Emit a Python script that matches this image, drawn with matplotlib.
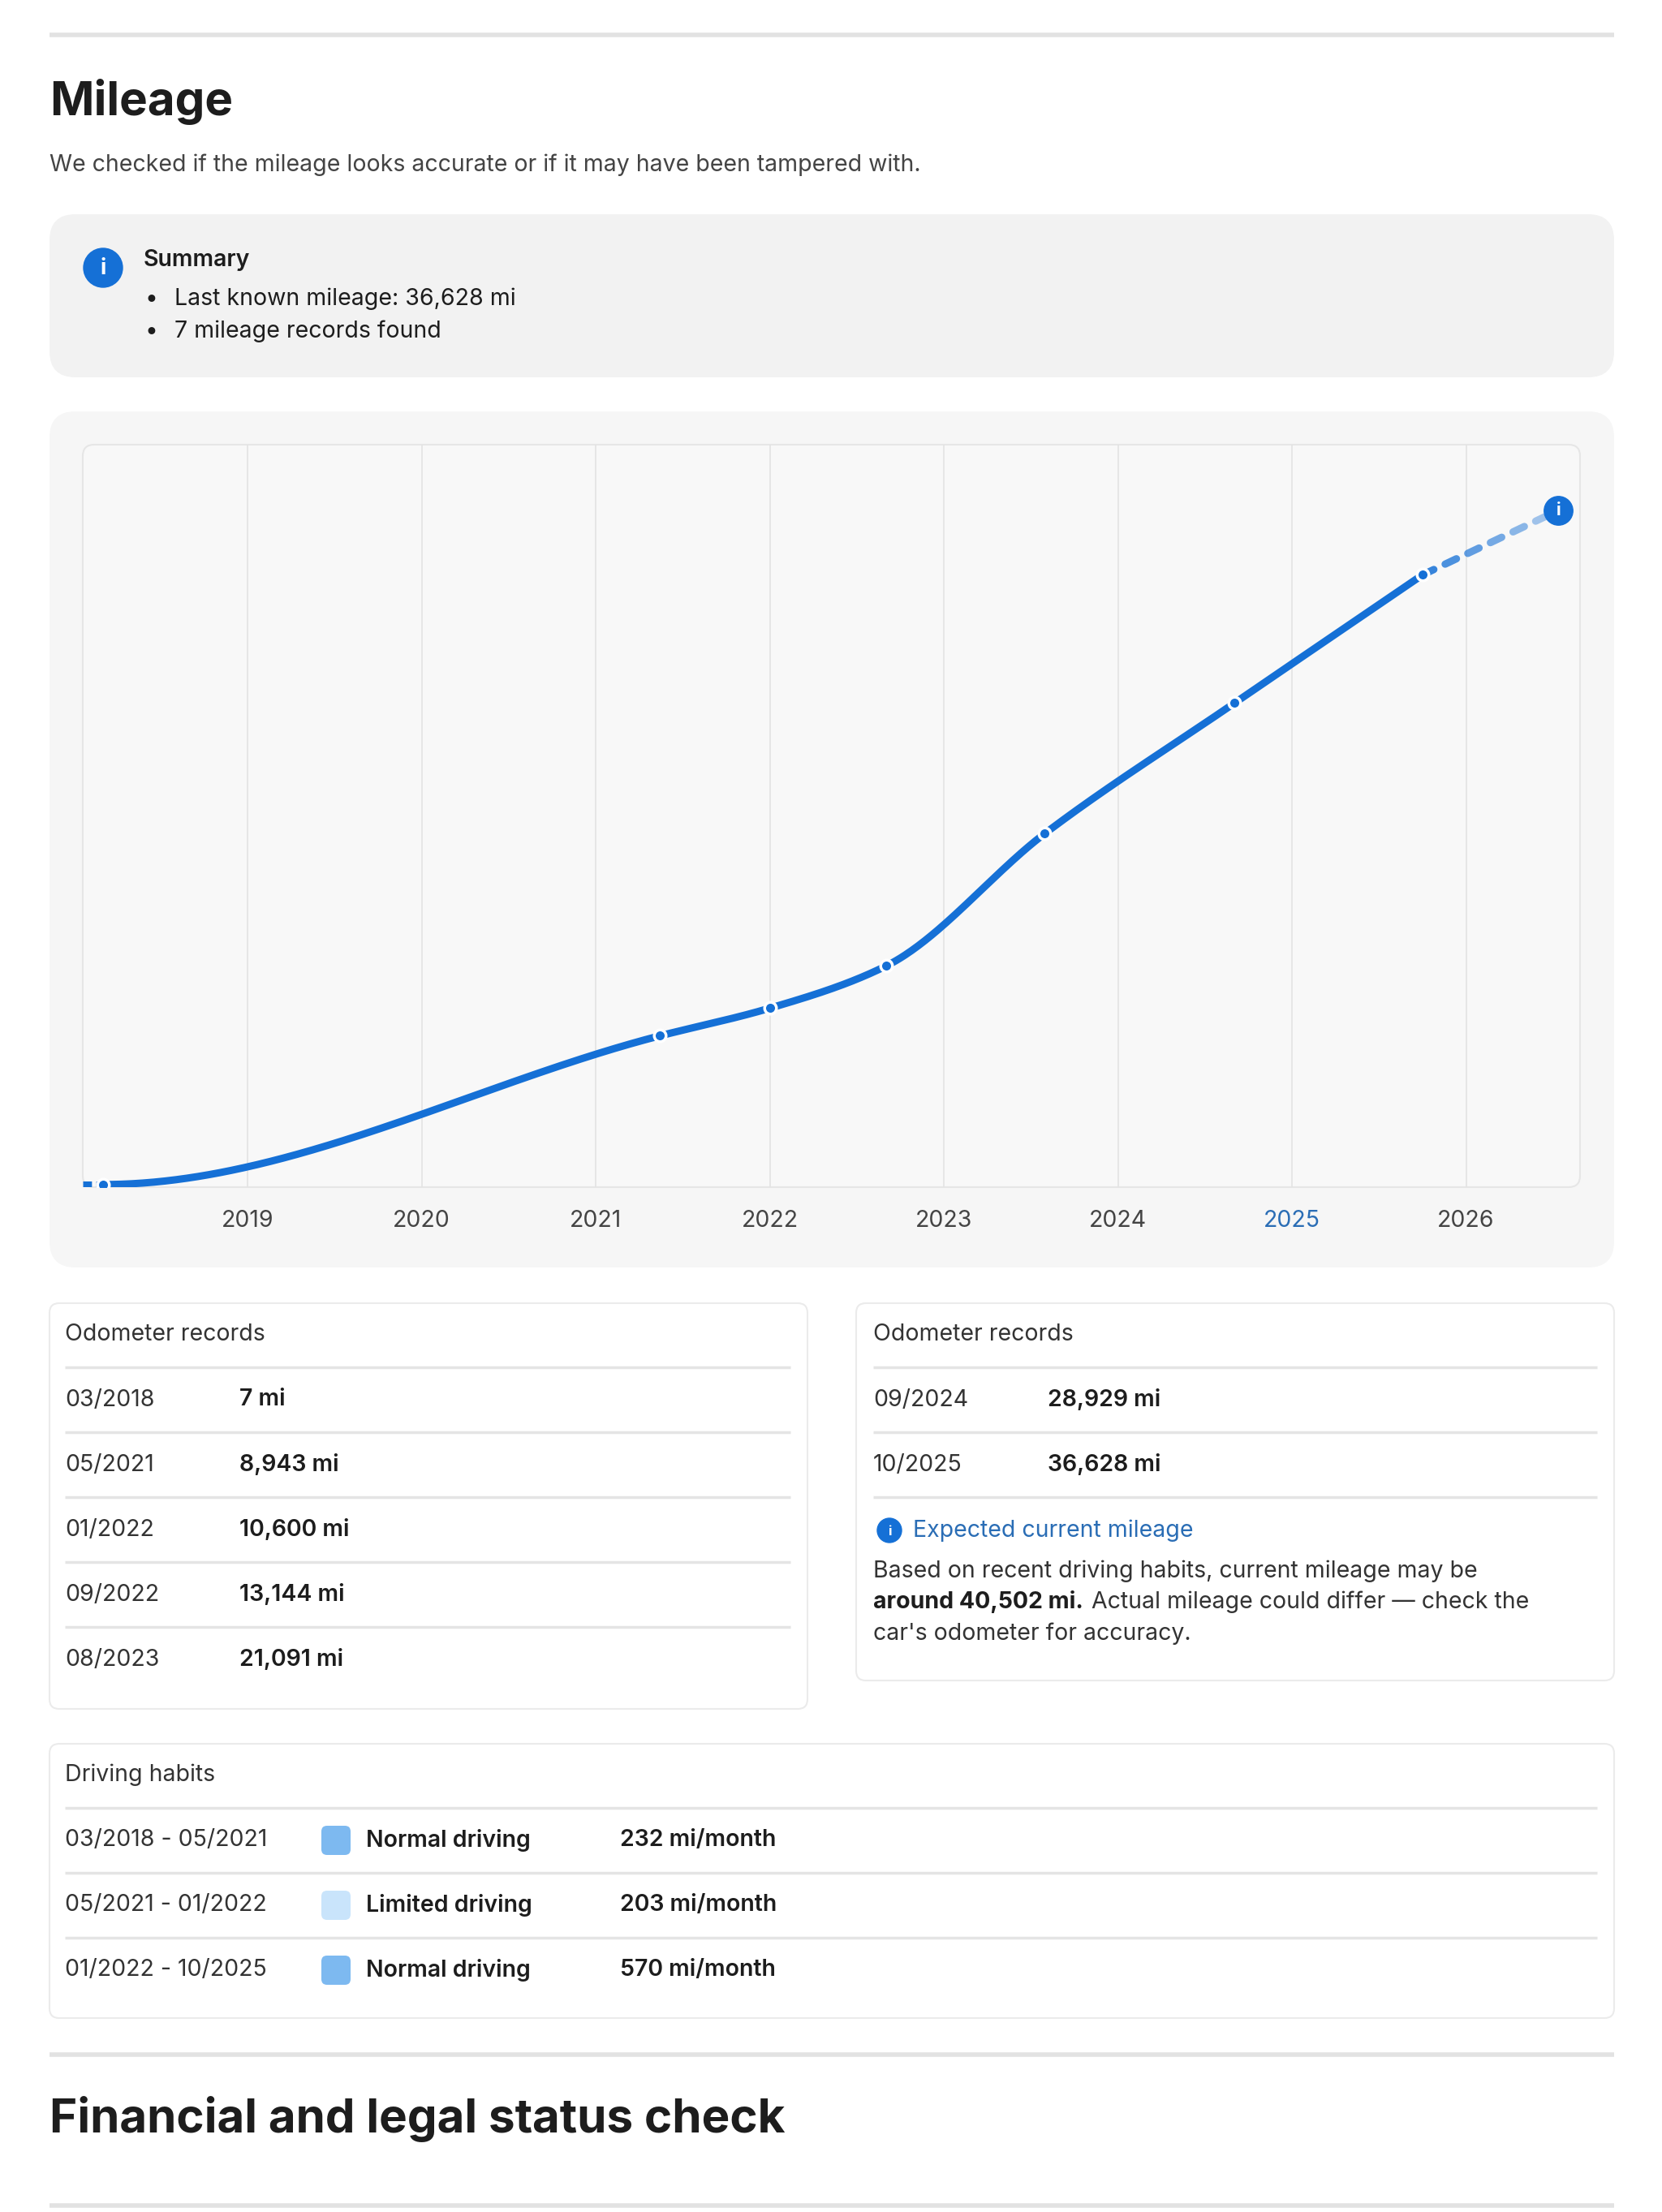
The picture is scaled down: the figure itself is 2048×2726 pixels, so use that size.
import numpy as np
import matplotlib.pyplot as plt
from matplotlib.patches import FancyBboxPatch, Circle

plt.rcParams['font.family'] = ['Inter', 'DejaVu Sans']

# data
record_dates = ["03/2018", "05/2021", "01/2022", "09/2022", "08/2023", "09/2024", "10/2025"]
record_miles = [7, 8943, 10600, 13144, 21091, 28929, 36628]
record_x = [2018.17, 2021.37, 2022.0, 2022.67, 2023.58, 2024.67, 2025.75]
expected_x = 2026.53
expected_miles = 40502
years = [2019, 2020, 2021, 2022, 2023, 2024, 2025, 2026]
habit_periods = ["03/2018 - 05/2021", "05/2021 - 01/2022", "01/2022 - 10/2025"]
habit_labels = ["Normal driving", "Limited driving", "Normal driving"]
habit_rates = ["232 mi/month", "203 mi/month", "570 mi/month"]
habit_colors = ["#7db9f0", "#c9e4fb", "#7db9f0"]

BLUE = "#1570d6"
LINK = "#2a6db5"
DARK = "#1d1d1d"
TXT = "#333333"
FS = 20.5


def smooth(x, y, xs):
    # monotone cubic, flat start
    x = np.asarray(x, float); y = np.asarray(y, float)
    h = np.diff(x); d = np.diff(y) / h
    m = np.zeros_like(y)
    for k in range(1, len(x) - 1):
        if d[k - 1] * d[k] > 0:
            w1 = 2 * h[k] + h[k - 1]; w2 = h[k] + 2 * h[k - 1]
            m[k] = (w1 + w2) / (w1 / d[k - 1] + w2 / d[k])
    m[0] = 0; m[-1] = d[-1]
    out = np.empty_like(xs)
    idx = np.clip(np.searchsorted(x, xs) - 1, 0, len(x) - 2)
    for j, (xv, i) in enumerate(zip(xs, idx)):
        t = (xv - x[i]) / h[i]
        h00 = 2*t**3 - 3*t**2 + 1; h10 = t**3 - 2*t**2 + t
        h01 = -2*t**3 + 3*t**2; h11 = t**3 - t**2
        out[j] = h00*y[i] + h10*h[i]*m[i] + h01*y[i+1] + h11*h[i]*m[i+1]
    return out


fig = plt.figure(figsize=(20.48, 27.26), dpi=100)
lay = fig.add_axes([0, 0, 1, 1])
lay.set_xlim(0, 2048); lay.set_ylim(2726, 0); lay.axis('off')


def box(x0, y0, x1, y1, fc, ec="none", r=28):
    lay.add_patch(FancyBboxPatch((x0, y0), x1 - x0, y1 - y0,
                                 boxstyle=f"round,pad=0,rounding_size={r}",
                                 fc=fc, ec=ec, lw=1.5))


def hline(y, x0, x1, c="#e4e4e4", lw=2.5):
    lay.plot([x0, x1], [y, y], color=c, lw=lw, solid_capstyle='butt')


def t(x, y, s, size=FS, weight='normal', color=TXT, **kw):
    return lay.text(x, y, s, fontsize=size, fontweight=weight, color=color, va='center', ha='left', **kw)


def icon(x, y, r):
    lay.add_patch(Circle((x, y), r, color=BLUE))
    lay.text(x, y + 1, "i", color="white", fontsize=r * 0.8, fontweight='bold', ha='center', va='center')


hline(43, 61, 1989, c="#e2e2e2", lw=4)
t(61, 125, "Mileage", size=42, weight='bold', color=DARK)
t(61, 203, "We checked if the mileage looks accurate or if it may have been tampered with.", color="#444444")

box(61, 264, 1989, 465, "#f2f2f2", r=32)
icon(127, 330, 24)
t(177, 321, "Summary", weight='semibold', color=DARK)
for yy, s in [(368, "Last known mileage: 36,628 mi"), (408, "7 mileage records found")]:
    t(178, yy, "•", color=DARK)
    t(215, yy, s, color=DARK)

box(61, 507, 1989, 1562, "#f6f6f6", r=32)
box(102, 548, 1947, 1463, "#f8f8f8", ec="#e6e6e6", r=14)

# chart
ax = fig.add_axes([102 / 2048, 1 - 1463 / 2726, (1947 - 102) / 2048, (1463 - 548) / 2726])
ax.patch.set_alpha(0)
ax.set_xlim(2018.053, 2026.655)
ax.set_ylim(-150, 44450)
for s in ax.spines.values():
    s.set_visible(False)
for yr in years:
    ax.axvline(yr, color="#e3e3e3", lw=1.2, zorder=0)
xs = np.linspace(record_x[0], record_x[-1], 600)
ax.plot(xs, smooth(record_x, record_miles, xs), color=BLUE, lw=6.5, solid_capstyle='round', zorder=2)
ax.plot([2018.053, record_x[0]], [record_miles[0]] * 2, color=BLUE, lw=6.5, ls=(0, (1.2, 0.6)), zorder=2)
# fading dashed projection
n = 6
px = np.linspace(record_x[-1], expected_x, 2 * n + 1)
py = np.linspace(record_miles[-1], expected_miles, 2 * n + 1)
for k in range(n):
    ax.plot(px[2 * k:2 * k + 2], py[2 * k:2 * k + 2], color=BLUE, lw=6.5,
            alpha=0.85 - 0.55 * k / n, solid_capstyle='round', zorder=2)
ax.scatter(record_x, record_miles, s=110, color=BLUE, edgecolor="white", linewidth=2.5, zorder=3)
ax.scatter([expected_x], [expected_miles], s=650, color=BLUE, zorder=4)
ax.text(expected_x, expected_miles, "i", color="white", fontsize=15, fontweight='bold', ha='center', va='center', zorder=5)
ax.set_yticks([])
ax.set_xticks(years)
ax.set_xticklabels([str(y) for y in years], fontsize=20.5, color="#444444")
ax.get_xticklabels()[years.index(2025)].set_color(LINK)
ax.tick_params(axis='x', length=0, pad=20)

# left records card
box(61, 1606, 995, 2106, "white", ec="#ebebeb", r=12)
t(80, 1644, "Odometer records")
rule_y = [1685, 1765, 1845, 1925, 2005]
row_y = [1725, 1806, 1886, 1966, 2046]
for ry in rule_y:
    hline(ry, 80, 974)
for i in range(5):
    t(80, row_y[i], record_dates[i])
    t(295, row_y[i], f"{record_miles[i]:,} mi", weight='semibold', color=DARK)

# right records card
box(1055, 1606, 1989, 2071, "white", ec="#ebebeb", r=12)
t(1076, 1644, "Odometer records")
for ry in rule_y[:3]:
    hline(ry, 1076, 1968)
for i in range(2):
    t(1076, row_y[i], record_dates[5 + i])
    t(1291, row_y[i], f"{record_miles[5 + i]:,} mi", weight='semibold', color=DARK)
icon(1096, 1886, 15)
t(1125, 1886, "Expected current mileage", color=LINK)
t(1076, 1936, "Based on recent driving habits, current mileage may be")
bold = t(1076, 1974, f"around {expected_miles:,} mi.", weight='bold', color=DARK)
fig.canvas.draw()
bb = bold.get_window_extent()
t(bb.x1 + 10, 1974, "Actual mileage could differ — check the")
t(1076, 2013, "car's odometer for accuracy.")

# driving habits card
box(61, 2149, 1989, 2487, "white", ec="#ebebeb", r=12)
t(80, 2187, "Driving habits")
for ry in [2228, 2308, 2388]:
    hline(ry, 80, 1968)
for i, yy in enumerate([2268, 2348, 2428]):
    t(80, yy, habit_periods[i])
    box(396, yy - 18, 432, yy + 18, habit_colors[i], r=7)
    t(451, yy, habit_labels[i], weight='semibold', color=DARK)
    t(764, yy, habit_rates[i], weight='semibold', color=DARK)

hline(2532, 61, 1989, c="#e2e2e2", lw=4)
t(61, 2612, "Financial and legal status check", size=42, weight='bold', color=DARK)
hline(2718, 61, 1989, c="#e2e2e2", lw=4)

fig.savefig("out.png", dpi=100)
